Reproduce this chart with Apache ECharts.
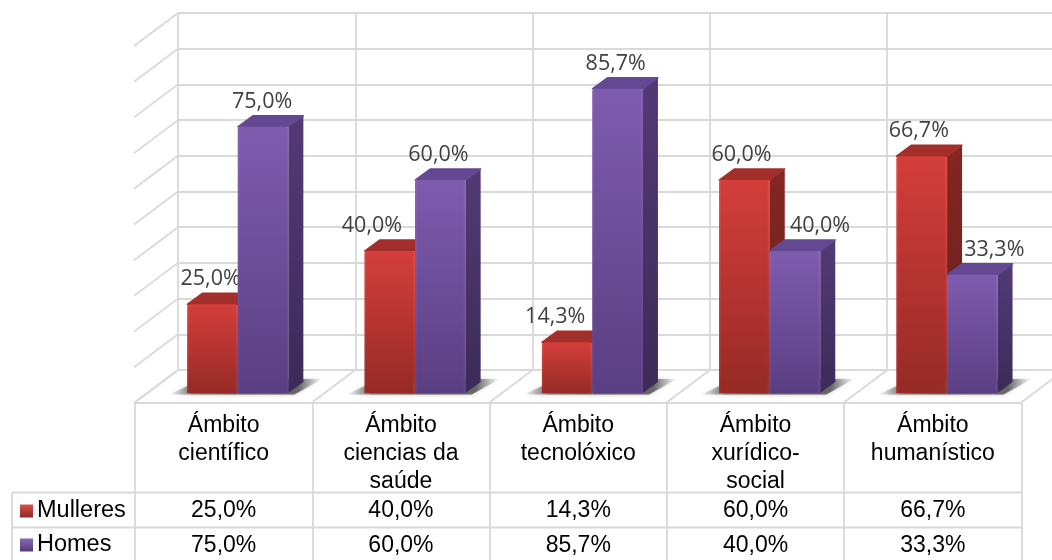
<!DOCTYPE html>
<html><head><meta charset="utf-8">
<style>html,body{margin:0;padding:0;background:#fff}#c{width:1052px;height:560px}</style>
<script src="https://cdn.jsdelivr.net/npm/echarts@6/dist/echarts.min.js"></script>
</head><body><div id="c"></div>
<script>
const categories = ['Ámbito\ncientífico','Ámbito\nciencias da\nsaúde','Ámbito\ntecnolóxico','Ámbito\nxurídico-\nsocial','Ámbito\nhumanístico'];
const mulleres = [25.0, 40.0, 14.3, 60.0, 66.7];
const homes = [75.0, 60.0, 85.7, 40.0, 33.3];
const mullLabelShift = [-2, -18, -12, -3, -3];
const homesLabelShift = [-1, -2, -2, 25, 22];
const wallTicks = [0,10,20,30,40,50,60,70,80,90,100];
const fmt = v => v.toFixed(1).replace('.', ',') + '%';

const G = echarts.graphic;
const lg = (a, b) => new G.LinearGradient(0, 0, 0, 1, [{offset:0,color:a},{offset:1,color:b}]);
const GRID = '#d9d9d9';
const LINE_W = 1.8;
const DEPTH_X = -44, DEPTH_Y = 33;        // wall depth
const BAR_DX = 15, BAR_DY = -11;          // bar depth
const BAR_W = 50.5;
const palette = {
  red: {front:['#d43e3a','#962a26'], edge:['#e04a45','#9f2c28'], side:['#862622','#64201c'], top:'#a32f2a', label:'#404040'},
  pur: {front:['#7f5bae','#5a3e82'], edge:['#8662b5','#604388'], side:['#533a75','#3d2a58'], top:'#654893', label:'#404040'}
};
function barItem(values, pal, offsetDir, shifts){
  return function(params, api){
    const i = params.dataIndex;
    const v = values[i];
    const c = api.coord([i, v]);
    const z = api.coord([i, 0]);
    const x0 = offsetDir < 0 ? c[0] - BAR_W : c[0];
    const x1 = x0 + BAR_W;
    const t = c[1], b = z[1];
    const kids = [];
    // floor shadow
    const reach = offsetDir < 0 ? [x0-18, x0+BAR_DX] : [x1+6, x1+BAR_DX+19];
    kids.push({type:'polygon', z2:1, shape:{points:offsetDir < 0
        ? [[x0-18,b+1.5],[x1,b+1.5],[x1,b+BAR_DY-3],[x0+BAR_DX,b+BAR_DY-3]]
        : [[x0,b+1.5],[x1+6,b+1.5],[x1+BAR_DX+19,b+BAR_DY-3],[x0,b+BAR_DY-3]]},
      style:{shadowBlur:4, shadowColor:'rgba(120,120,120,0.5)', fill:new G.LinearGradient(0,0,1,0, offsetDir < 0 ? [
        {offset:0,color:'rgba(130,130,130,0.05)'},{offset:0.35,color:'rgba(90,90,90,0.8)'},{offset:1,color:'rgba(80,80,80,0.9)'}] : [
        {offset:0,color:'rgba(80,80,80,0.9)'},{offset:0.72,color:'rgba(85,85,85,0.85)'},{offset:1,color:'rgba(150,150,150,0.05)'}])}});
    // side
    kids.push({type:'polygon', z2:2, shape:{points:[[x1,t],[x1+BAR_DX,t+BAR_DY],[x1+BAR_DX,b+BAR_DY],[x1,b]]},
      style:{fill:lg(pal.side[0],pal.side[1])}});
    // top
    kids.push({type:'polygon', z2:2, shape:{points:[[x0,t],[x0+BAR_DX,t+BAR_DY],[x1+BAR_DX,t+BAR_DY],[x1,t]]},
      style:{fill:pal.top, stroke:pal.top, lineWidth:1.5, lineJoin:'round'}});
    // front
    kids.push({type:'rect', z2:3, shape:{x:x0,y:t,width:BAR_W,height:b-t,r:[3,3,0,0]},
      style:{fill:lg(pal.front[0],pal.front[1])}});
    // bevel edges of the front face
    kids.push({type:'rect', z2:4, shape:{x:x1-2,y:t+1,width:2,height:b-t-1}, style:{fill:lg(pal.edge[0],pal.edge[1])}});
    kids.push({type:'rect', z2:4, shape:{x:x0,y:t+1,width:1.5,height:b-t-1}, style:{fill:lg(pal.edge[0],pal.edge[1])}});
    // value label
    kids.push({type:'text', z2:9, style:{
      text: fmt(v), x:(x0+x1)/2 + shifts[i], y:t-25, align:'center', verticalAlign:'middle',
      fill:pal.label, font:'21.5px "Open Sans"'}});
    return {type:'group', children:kids};
  };
}
function frameItem(params, api){
  // side wall, from the left edge of the back wall
  const v = wallTicks[params.dataIndex];
  const band = api.size([1, 0])[0];
  const p = api.coord([0, v]);
  const x = p[0] - band / 2;
  return {type:'line', shape:{x1:x,y1:p[1],x2:x+DEPTH_X,y2:p[1]+DEPTH_Y},
    style:{stroke:GRID,lineWidth:LINE_W}};
}
function floorItem(params, api){
  const k = params.dataIndex;
  const band = api.size([1, 0])[0];
  const p = api.coord([0, 0]);
  const x = p[0] - band / 2 + k * band;
  const kids = [{type:'line', shape:{x1:x,y1:p[1],x2:x+DEPTH_X,y2:p[1]+DEPTH_Y}, style:{stroke:GRID,lineWidth:LINE_W}}];
  if (k < categories.length) {
    kids.push({type:'line', shape:{x1:x+DEPTH_X,y1:p[1]+DEPTH_Y,x2:x+band+DEPTH_X,y2:p[1]+DEPTH_Y}, style:{stroke:GRID,lineWidth:LINE_W}});
  }
  return {type:'group', children:kids};
}
const ROW_Y = [492.5, 527.5, 562];
const HEAD_X = 12;
function tableItem(params, api){
  const i = params.dataIndex;
  const x = api.coord([i, 0])[0];
  return {type:'group', children:[
    {type:'text', style:{text:fmt(mulleres[i]), x, y:510.5, align:'center', verticalAlign:'middle', fill:'#000', font:'23px "Liberation Sans"'}},
    {type:'text', style:{text:fmt(homes[i]), x, y:545.5, align:'center', verticalAlign:'middle', fill:'#000', font:'23px "Liberation Sans"'}}
  ]};
}
function tableLines(params, api){
  const band = api.size([1, 0])[0];
  const r = api.coord([categories.length - 1, 0])[0] + band / 2;
  const kids = [];
  ROW_Y.forEach(y => kids.push({type:'line', shape:{x1:HEAD_X,y1:y,x2:r,y2:y}, style:{stroke:GRID,lineWidth:LINE_W}}));
  kids.push({type:'line', shape:{x1:HEAD_X,y1:ROW_Y[0],x2:HEAD_X,y2:ROW_Y[2]}, style:{stroke:GRID,lineWidth:LINE_W}});
  return {type:'group', children:kids};
}
const idx = categories.map((_, i) => i);
const chart = echarts.init(document.getElementById('c'), null, {renderer:'canvas'});
chart.setOption({
  animation:false,
  backgroundColor:'#fff',
  textStyle:{fontFamily:'"Liberation Sans"'},
  grid:[
    {left:149.2, top:38, width:886.5, height:355, outerBoundsMode:'none'},   // plane of the bars
    {left:178, top:13, width:886.5, height:357, outerBoundsMode:'none'},     // back wall
    {left:135, top:403, width:886.5, height:157, outerBoundsMode:'none'}     // data table
  ],
  xAxis:[
    {gridIndex:0, type:'category', data:categories, show:false},
    {gridIndex:1, type:'category', data:categories, axisLine:{show:false}, axisTick:{show:false}, axisLabel:{show:false},
      splitLine:{show:true, lineStyle:{color:GRID,width:LINE_W}}},
    {gridIndex:2, type:'category', position:'top', data:categories, axisLine:{show:false}, axisTick:{show:false},
      splitLine:{show:true, lineStyle:{color:GRID,width:LINE_W}},
      axisLabel:{inside:true, interval:0, verticalAlign:'top', margin:9, fontSize:23, lineHeight:28, color:'#000', fontFamily:'"Liberation Sans"'}}
  ],
  yAxis:[
    {gridIndex:0, type:'value', min:0, max:100, show:false},
    {gridIndex:1, type:'value', min:0, max:100, interval:10, axisLine:{show:false}, axisTick:{show:false}, axisLabel:{show:false},
      splitLine:{show:true, lineStyle:{color:GRID,width:LINE_W}}},
    {gridIndex:2, type:'value', min:0, max:1, show:false, splitLine:{show:false}}
  ],
  legend:{orient:'vertical', left:20, top:499, itemWidth:13, itemHeight:13, itemGap:10, padding:0,
    textStyle:{fontSize:23.5, color:'#000', fontFamily:'"Liberation Sans"', padding:[0,0,0,-1]},
    data:[
      {name:'Mulleres', icon:'rect', itemStyle:{color:lg('#d9504c','#8f2925')}},
      {name:'Homes', icon:'rect', itemStyle:{color:lg('#8a68b8','#543a7a')}}
    ]},
  series:[
    {type:'custom', name:'frame', xAxisIndex:1, yAxisIndex:1, data:wallTicks, renderItem:frameItem, clip:false, silent:true, z:1},
    {type:'custom', name:'floor', xAxisIndex:1, yAxisIndex:1, data:[0,1,2,3,4,5], renderItem:floorItem, clip:false, silent:true, z:1},
    {type:'custom', name:'Mulleres', xAxisIndex:0, yAxisIndex:0, data:mulleres, renderItem:barItem(mulleres, palette.red, -1, mullLabelShift), clip:false, z:3, itemStyle:{color:'#c0392f'}},
    {type:'custom', name:'Homes', xAxisIndex:0, yAxisIndex:0, data:homes, renderItem:barItem(homes, palette.pur, 1, homesLabelShift), clip:false, z:4, itemStyle:{color:'#6f4e9c'}},
    {type:'custom', name:'tableLines', xAxisIndex:2, yAxisIndex:2, data:[0], renderItem:tableLines, clip:false, silent:true, z:2},
    {type:'custom', name:'table', xAxisIndex:2, yAxisIndex:2, data:idx, renderItem:tableItem, clip:false, silent:true, z:5}
  ]
});
</script></body></html>
